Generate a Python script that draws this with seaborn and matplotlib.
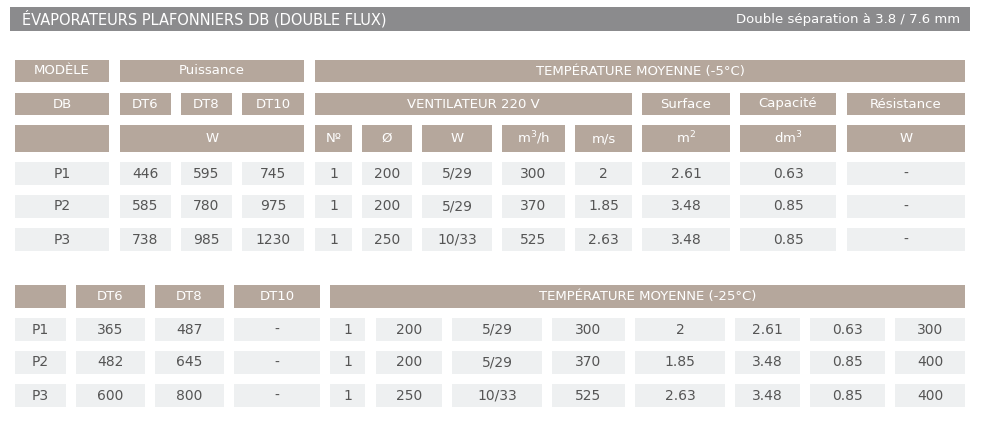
import matplotlib
matplotlib.use('Agg')
import matplotlib.pyplot as plt
import seaborn as sns
from matplotlib.patches import Rectangle

# ---- data ----
title_left = "ÉVAPORATEURS PLAFONNIERS DB (DOUBLE FLUX)"
title_right = "Double séparation à 3.8 / 7.6 mm"

models = ["P1", "P2", "P3"]
dt6_a = ["446", "585", "738"]
dt8_a = ["595", "780", "985"]
dt10_a = ["745", "975", "1230"]
fan_no = ["1", "1", "1"]
fan_dia = ["200", "200", "250"]
fan_w = ["5/29", "5/29", "10/33"]
airflow = ["300", "370", "525"]
speed = ["2", "1.85", "2.63"]
surface = ["2.61", "3.48", "3.48"]
capacity = ["0.63", "0.85", "0.85"]
resist_a = ["-", "-", "-"]

dt6_b = ["365", "482", "600"]
dt8_b = ["487", "645", "800"]
dt10_b = ["-", "-", "-"]
resist_b = ["300", "400", "400"]

GRAY = "#8b8b8d"
TAN = "#b5a79c"
CELL = "#eef0f1"
TXT = "#555555"

sns.set_theme(style="white")
plt.rcParams['font.family'] = ['DejaVu Sans']

fig = plt.figure(figsize=(9.84, 4.30), dpi=100)
ax = fig.add_axes([0, 0, 1, 1])
ax.set_xlim(0, 984)
ax.set_ylim(430, 0)
ax.axis('off')


def cell(x0, x1, y0, y1, text, fc, tc, size=9.5, ha='center'):
    ax.add_patch(Rectangle((x0, y0), x1 - x0, y1 - y0, fc=fc, ec='none'))
    if ha == 'center':
        ax.text((x0 + x1) / 2, (y0 + y1) / 2, text, ha='center', va='center',
                color=tc, fontsize=size)


# title bar
ax.add_patch(Rectangle((10, 7), 960, 24, fc=GRAY, ec='none'))
ax.text(22, 19, title_left, ha='left', va='center', color='white', fontsize=10.5)
ax.text(960, 19, title_right, ha='right', va='center', color='white', fontsize=9.5)

# ---- top table headers ----
cell(15, 109, 60, 82, "MODÈLE", TAN, 'white')
cell(120, 304, 60, 82, "Puissance", TAN, 'white')
cell(315, 965, 60, 82, "TEMPÉRATURE MOYENNE (-5°C)", TAN, 'white')

row2 = [(15, 109, "DB"), (120, 171, "DT6"), (181, 232, "DT8"), (242, 304, "DT10"),
        (315, 632, "VENTILATEUR 220 V"), (642, 730, "Surface"),
        (740, 836, "Capacité"), (847, 965, "Résistance")]
for x0, x1, t in row2:
    cell(x0, x1, 93, 115, t, TAN, 'white')

row3 = [(15, 109, ""), (120, 304, "W"), (315, 352, "Nº"), (362, 412, "Ø"),
        (422, 492, "W"), (502, 565, r"m$^3$/h"), (575, 632, "m/s"),
        (642, 730, r"m$^2$"), (740, 836, r"dm$^3$"), (847, 965, "W")]
for x0, x1, t in row3:
    cell(x0, x1, 125, 152, t, TAN, 'white')

cols_a = [(15, 109), (120, 171), (181, 232), (242, 304), (315, 352), (362, 412),
          (422, 492), (502, 565), (575, 632), (642, 730), (740, 836), (847, 965)]
series_a = [models, dt6_a, dt8_a, dt10_a, fan_no, fan_dia, fan_w, airflow,
            speed, surface, capacity, resist_a]
for i, y0 in enumerate([162, 195, 228]):
    for (x0, x1), s in zip(cols_a, series_a):
        cell(x0, x1, y0, y0 + 23, s[i], CELL, TXT, size=10)

# ---- bottom table ----
hdr_b = [(15, 66, ""), (76, 145, "DT6"), (155, 224, "DT8"), (234, 320, "DT10"),
         (330, 965, "TEMPÉRATURE MOYENNE (-25°C)")]
for x0, x1, t in hdr_b:
    cell(x0, x1, 285, 308, t, TAN, 'white')

cols_b = [(15, 66), (76, 145), (155, 224), (234, 320), (330, 365), (376, 442),
          (452, 542), (552, 625), (635, 725), (735, 800), (810, 885), (895, 965)]
series_b = [models, dt6_b, dt8_b, dt10_b, fan_no, fan_dia, fan_w, airflow,
            speed, surface, capacity, resist_b]
for i, y0 in enumerate([318, 351, 384]):
    for (x0, x1), s in zip(cols_b, series_b):
        cell(x0, x1, y0, y0 + 23, s[i], CELL, TXT, size=10)

fig.savefig("out.png", dpi=100)
